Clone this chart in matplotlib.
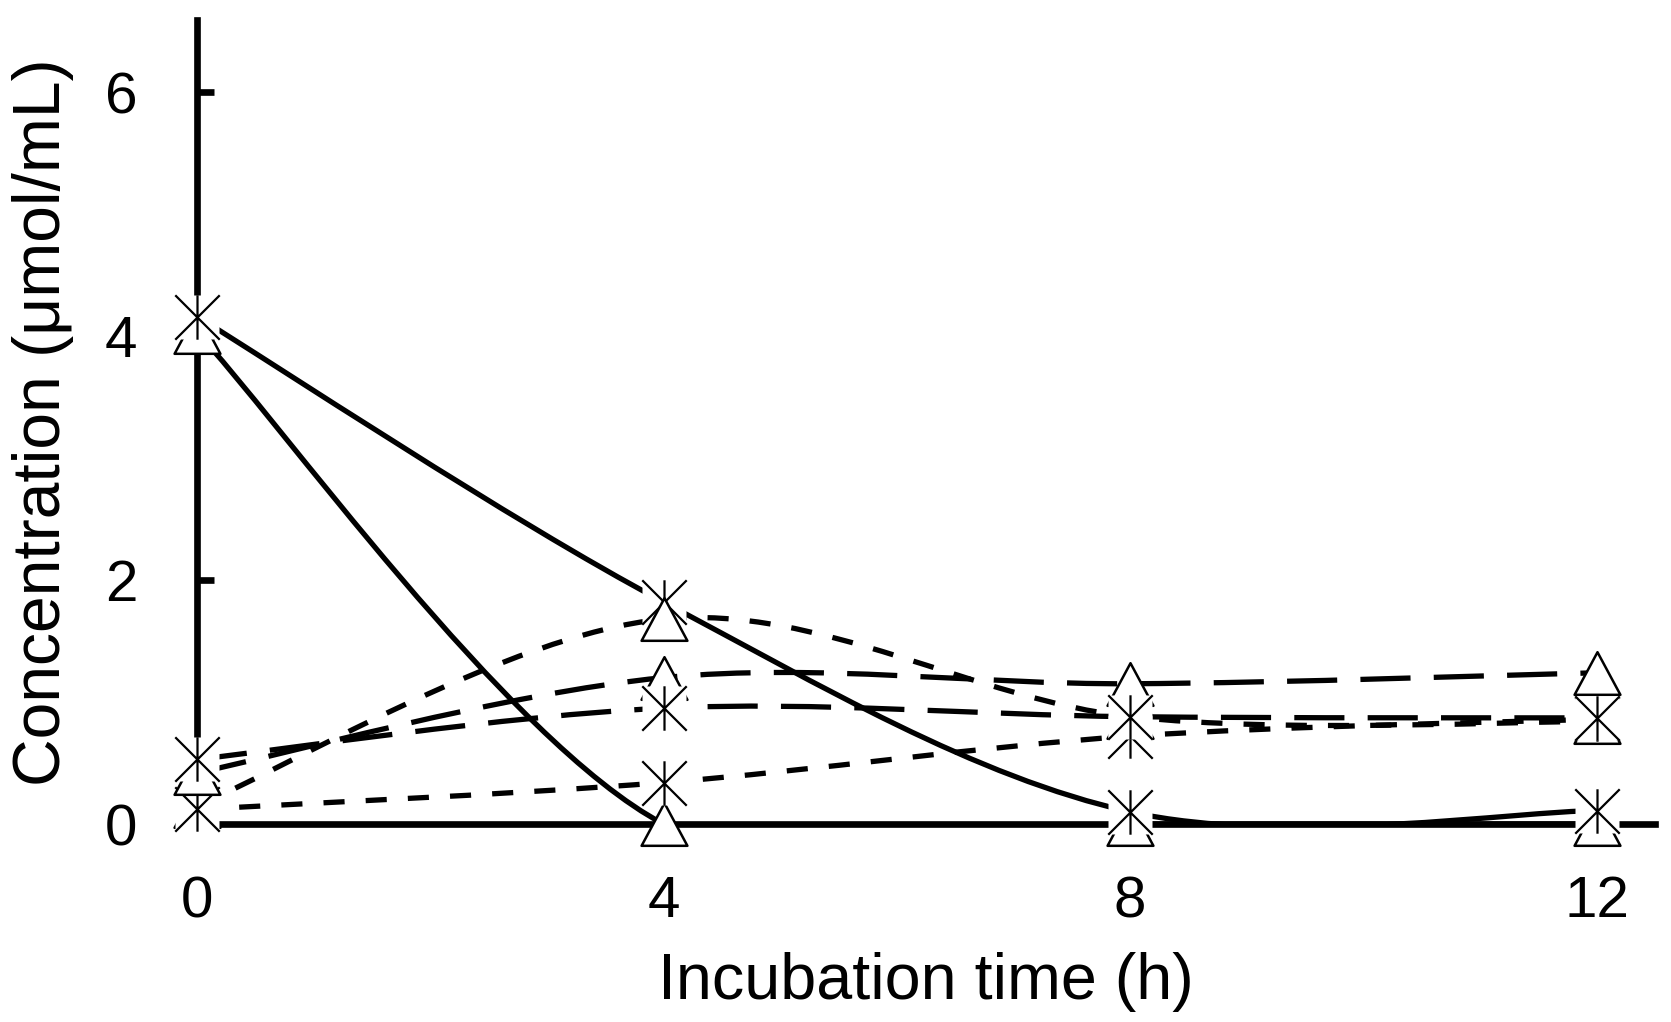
import numpy as np
import matplotlib
matplotlib.use('Agg')
import matplotlib.pyplot as plt
from matplotlib.path import Path
from matplotlib.patches import PathPatch

plt.rcParams['font.family'] = ['Liberation Sans', 'DejaVu Sans']

# data
hours = [0, 4, 8, 12]
solid_tri = [4.03, 0.0, 0.0, 0.0]
solid_star = [4.16, 1.82, 0.10, 0.11]
short_tri = [0.15, 1.68, 0.88, 0.84]
short_star = [0.12, 0.34, 0.72, 0.86]
long_tri = [0.42, 1.20, 1.15, 1.24]
long_star = [0.53, 0.95, 0.88, 0.87]

xticks = [0, 4, 8, 12]
yticks = [0, 2, 4, 6]


def smooth_path(xs, ys):
    # excel style smoothed line: cubic bezier through the points
    pts = np.column_stack([xs, ys]).astype(float)
    n = len(pts)
    verts = [pts[0]]
    codes = [Path.MOVETO]
    for i in range(n - 1):
        p0 = pts[max(i - 1, 0)]
        p1 = pts[i]
        p2 = pts[i + 1]
        p3 = pts[min(i + 2, n - 1)]
        verts += [p1 + (p2 - p0) / 6.0, p2 - (p3 - p1) / 6.0, p2]
        codes += [Path.CURVE4] * 3
    return Path(verts, codes)


# triangle and asterisk marker shapes
tri = Path([(-1, -0.93), (1, -0.93), (0, 0.93), (-1, -0.93)],
           [Path.MOVETO, Path.LINETO, Path.LINETO, Path.CLOSEPOLY])
star = Path([(0, -1), (0, 1), (-1, -1), (1, 1), (-1, 1), (1, -1)],
            [Path.MOVETO, Path.LINETO, Path.MOVETO, Path.LINETO,
             Path.MOVETO, Path.LINETO])

short_dash = (0, (4.0, 4.0))
long_dash = (0, (9.5, 4.4))
series = [
    (solid_tri, '-', 'tri'),
    (solid_star, '-', 'star'),
    (short_tri, short_dash, 'tri'),
    (short_star, short_dash, 'star'),
    (long_tri, long_dash, 'tri'),
    (long_star, long_dash, 'star'),
]

fig = plt.figure(figsize=(16.71, 10.22), dpi=100)
ax = fig.add_axes([0.1179, 0.1937, 0.8725, 0.7867])

lw = 3.8
for vals, ls, m in series:
    patch = PathPatch(smooth_path(hours, vals), fill=False, edgecolor='black',
                      linewidth=lw, linestyle=ls, capstyle='butt', zorder=2)
    ax.add_patch(patch)

z = 4
for vals, ls, m in series:
    if m == 'tri':
        ax.plot(hours, vals, linestyle='none', marker=tri, ms=33, mfc='white',
                mec='black', mew=1.8, clip_on=False, zorder=z)
    else:
        ax.plot(hours, vals, linestyle='none', marker='s', ms=31, mfc='white',
                mec='none', clip_on=False, zorder=z)
        ax.plot(hours, vals, linestyle='none', marker=star, ms=32, mfc='none',
                mec='black', mew=1.6, clip_on=False, zorder=z + 0.05)
    z += 0.1

ax.set_xlim(0, 12.5)
ax.set_ylim(0, 6.59)
ax.set_xticks(xticks)
ax.set_yticks(yticks)
for side in ['top', 'right']:
    ax.spines[side].set_visible(False)
for side in ['left', 'bottom']:
    ax.spines[side].set_linewidth(4.8)
    ax.spines[side].set_zorder(2.5)
ax.tick_params(axis='y', direction='in', length=12, width=4.8, pad=43, labelsize=42)
ax.tick_params(axis='x', length=0, pad=37, labelsize=42)

ax.set_xlabel('Incubation time (h)', fontsize=46.5, labelpad=16)
ax.set_ylabel('Concentration (μmol/mL)', fontsize=47.5, labelpad=22)

fig.savefig('out.png', dpi=100)
